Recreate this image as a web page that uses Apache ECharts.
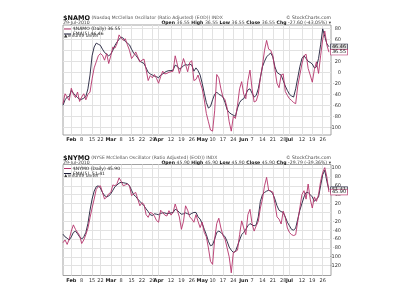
<!DOCTYPE html>
<html><head><meta charset="utf-8">
<script src="https://cdn.jsdelivr.net/npm/echarts@6/dist/echarts.min.js"></script>
<style>html,body{margin:0;padding:0;background:#fff}#c{width:400px;height:300px}</style>
</head><body><div id="c"></div>
<script>
// ---------- data ----------
const dates = ['01-26','01-27','01-28','01-29','02-01','02-02','02-03','02-04','02-05','02-08','02-09','02-10','02-11','02-12','02-16','02-17','02-18','02-19','02-22','02-23','02-24','02-25','02-26','03-01','03-02','03-03','03-04','03-05','03-08','03-09','03-10','03-11','03-12','03-15','03-16','03-17','03-18','03-19','03-22','03-23','03-24','03-25','03-26','03-29','03-30','03-31','04-01','04-05','04-06','04-07','04-08','04-09','04-12','04-13','04-14','04-15','04-16','04-19','04-20','04-21','04-22','04-23','04-26','04-27','04-28','04-29','04-30','05-03','05-04','05-05','05-06','05-07','05-10','05-11','05-12','05-13','05-14','05-17','05-18','05-19','05-20','05-21','05-24','05-25','05-26','05-27','05-28','06-01','06-02','06-03','06-04','06-07','06-08','06-09','06-10','06-11','06-14','06-15','06-16','06-17','06-18','06-21','06-22','06-23','06-24','06-25','06-28','06-29','06-30','07-01','07-02','07-06','07-07','07-08','07-09','07-12','07-13','07-14','07-15','07-16','07-19','07-20','07-21','07-22','07-23','07-26','07-27','07-28','07-29'].map(d => '2010-' + d);

const tickDates = ['2010-02-01','2010-02-08','2010-02-16','2010-02-22','2010-03-01','2010-03-08','2010-03-15','2010-03-22','2010-03-29','2010-04-01','2010-04-12','2010-04-19','2010-04-26','2010-05-03','2010-05-10','2010-05-17','2010-05-24','2010-06-01','2010-06-07','2010-06-14','2010-06-21','2010-06-28','2010-07-01','2010-07-12','2010-07-19','2010-07-26'];
const tickText = ['Feb','8','15','22','Mar','8','15','22','29','Apr','12','19','26','May','10','17','24','Jun','7','14','21','28','Jul','12','19','26'];

const namoDaily = [-57,-39,-45,-51,-29,-40,-46,-36,-53,-45,-39,-50,-40,-36,-12,8,19,30,34,31,22,34,16,30,46,44,52,68,62,58,61,50,40,25,30,37,28,19,22,24,5,-15,-6,-10,-4,-11,-20,-8,2,-3,-2,0,1,2,30,15,-2,10,25,14,1,18,21,-15,-13,-5,-18,-30,-50,-75,-90,-105,-107,-70,-4,-10,-30,-45,-50,-65,-90,-107,-80,-84,-60,-30,-17,-40,-48,-15,4,-30,-54,-52,-40,-10,12,40,58,42,40,30,5,-20,-28,-5,-3,-35,-42,-48,-51,-55,-57,-25,-5,15,30,33,7,-5,-18,5,19,-2,30,60,75,50,36.55];
const namoEma = [-60,-50,-45,-44,-33,-38,-42,-46,-49,-49,-47,-44,-30,-5,30,46,53,51,49,42,36,33,30,33,40,49,55,60,64,62,56,53,50,42,35,31,26,20,18,16,8,0,-3,-5,-7,-8,-10,-5,-3,0,2,3,3,4,13,11,6,8,12,14,13,15,13,2,8,3,-5,-20,-38,-55,-65,-62,-50,-40,-36,-40,-42,-45,-55,-68,-73,-76,-78,-80,-65,-55,-50,-48,-40,-32,-30,-38,-45,-42,-30,-10,10,20,28,32,35,28,10,0,-3,-5,-15,-25,-33,-40,-43,-45,-30,-10,10,25,30,25,20,18,15,8,10,25,50,79,65,52,46.46];
const nymoDaily = [-68,-62,-72,-60,-42,-28,-38,-45,-52,-70,-62,-50,-35,-12,10,30,52,58,60,45,30,35,42,45,62,60,65,78,70,60,62,64,60,38,42,45,30,15,22,18,-5,-11,0,-2,-8,-18,-22,5,0,-6,-8,4,-6,0,19,5,-10,-38,-20,15,5,-10,-15,-22,-5,-20,-34,-22,-45,-55,-80,-110,-117,-60,-25,-13,-35,-52,-60,-80,-100,-136,-90,-88,-85,-50,-19,-35,-50,-5,7,-25,-42,-30,-20,10,30,60,79,50,48,46,20,-10,-15,-26,3,-12,-35,-45,-50,-52,-50,-20,10,40,49,30,64,30,10,35,25,40,70,90,101,80,45.90];
const nymoEma = [-49,-55,-58,-62,-55,-45,-42,-48,-55,-60,-55,-45,-25,5,30,48,58,60,55,45,38,35,37,42,50,58,62,66,68,67,66,65,60,50,40,36,30,25,20,15,8,2,-5,-7,-3,-4,-5,-2,-1,-1,-3,-2,-1,0,7,5,0,-4,-3,-1,-3,-5,-2,0,0,-10,-15,-25,-38,-50,-65,-75,-73,-60,-45,-42,-45,-50,-55,-65,-78,-85,-90,-88,-75,-62,-50,-45,-38,-30,-25,-28,-30,-28,-10,25,40,45,48,50,48,42,30,15,5,2,0,-10,-22,-30,-38,-40,-35,-15,5,20,35,45,45,40,35,25,30,35,60,85,95,70,51.41];

const namoTicks = [-100,-80,-60,-40,-20,0,20,40,60,80];
const nymoTicks = [-120,-100,-80,-60,-40,-20,0,20,40,60,80,100];

// ---------- style ----------
const FONT = 'DejaVu Sans';
const RED = '#b5336b', DARK = '#1e1e3a', GRID = '#e2e2e2', FRAME = '#8a8a8a';
const cats = dates.concat(['']);
const tickMap = {}; tickDates.forEach((d, i) => tickMap[d] = tickText[i]);
const isMonth = t => /[A-Za-z]/.test(t);

function xAxis(gi) {
  return {
    type: 'category', gridIndex: gi, data: cats, boundaryGap: false,
    axisLine: {show: false}, axisTick: {show: false},
    axisLabel: {
      interval: (i, v) => v in tickMap, margin: 2.5, fontSize: 5, fontFamily: FONT, color: '#333',
      formatter: v => isMonth(tickMap[v]) ? '{b|' + tickMap[v] + '}' : tickMap[v],
      rich: {b: {fontWeight: 'bold', fontSize: 5, fontFamily: FONT, color: '#222'}}
    },
    splitLine: {show: true, interval: (i, v) => v in tickMap, lineStyle: {color: GRID, width: 1}}
  };
}
function yAxis(gi, min, max, ticks) {
  return {
    type: 'value', gridIndex: gi, position: 'right', min, max,
    axisLine: {show: false},
    axisTick: {show: false, customValues: ticks},
    axisLabel: {customValues: ticks, fontSize: 5, fontFamily: FONT, color: '#333', align: 'right', margin: 10},
    splitLine: {show: true, lineStyle: {color: GRID, width: 1}}
  };
}
function line(name, data, gi, color, boxBg, boxFg) {
  return {
    type: 'line', name, data, xAxisIndex: gi, yAxisIndex: gi, showSymbol: false,
    lineStyle: {width: 0.9, color}, itemStyle: {color}, z: color === RED ? 3 : 2,
    endLabel: {show: true, formatter: p => Number(p.value).toFixed(2), fontSize: 5, fontFamily: FONT,
      color: boxFg, backgroundColor: boxBg, borderColor: color, borderWidth: 0.6, padding: [0, 1, 0, 1], distance: 2}
  };
}
function legend(top, names, vals) {
  return {
    left: 63, top, orient: 'vertical', itemGap: 0, itemWidth: 7, itemHeight: 1, padding: 1,
    icon: 'rect', data: names, selectedMode: false,
    textStyle: {fontSize: 4.5, fontFamily: FONT, color: '#222', padding: [0, 0, 0, -3]},
    formatter: n => n + ' ' + vals[names.indexOf(n)]
  };
}
function header(y, sym, desc, stats) {
  const t = (x, yy, rich, text, align) => ({type: 'text', x, y: yy, style: {text, rich, align: align || 'left', verticalAlign: 'top', font: '5px ' + FONT, fill: '#333'}});
  const R = {s: {fontSize: 6.5, fontWeight: 'bold', fontFamily: FONT, fill: '#111'}, d: {fontSize: 4.5, fontFamily: FONT, fill: '#555'},
             b: {fontSize: 4.6, fontWeight: 'bold', fontFamily: FONT, fill: '#111'}, n: {fontSize: 4.6, fontFamily: FONT, fill: '#444'}};
  const st = stats.map(([k, v]) => '{b|' + k + '} {n|' + v + '}').join(' ');
  return [
    t(63, y, R, '{s|' + sym + '} {d|' + desc + '}'),
    t(331, y + 0.5, R, '{n|© StockCharts.com}', 'right'),
    t(63, y + 6, R, '{n|29-Jul-2010}'),
    t(331, y + 6, R, st + ' {n|▾}', 'right')
  ];
}

const chart = echarts.init(document.getElementById('c'), null, {renderer: 'canvas'});
chart.setOption({
  animation: false, backgroundColor: '#fff',
  textStyle: {fontFamily: FONT},
  grid: [
    {left: 63, right: 69, top: 25, height: 110, show: true, borderColor: FRAME, borderWidth: 0.8, backgroundColor: '#fff'},
    {left: 63, right: 69, top: 164.5, height: 111, show: true, borderColor: FRAME, borderWidth: 0.8, backgroundColor: '#fff'}
  ],
  xAxis: [xAxis(0), xAxis(1)],
  yAxis: [yAxis(0, -114, 86, namoTicks), yAxis(1, -142, 108, nymoTicks)],
  legend: [
    legend(25.5, ['$NAMO (Daily)', 'EMA(5)'], ['36.55', '46.46']),
    legend(165, ['$NYMO (Daily)', 'EMA(5) '], ['45.90', '51.41'])
  ],
  series: [
    line('$NAMO (Daily)', namoDaily, 0, RED, '#fff', '#111'),
    line('EMA(5)', namoEma, 0, DARK, '#ddd', '#111'),
    line('$NYMO (Daily)', nymoDaily, 1, RED, '#fff', '#111'),
    line('EMA(5) ', nymoEma, 1, DARK, '#ddd', '#111')
  ],
  graphic: [].concat(
    header(14.5, '$NAMO', '(Nasdaq McClellan Oscillator (Ratio Adjusted) (EOD)) INDX',
      [['Open', '36.55'], ['High', '36.55'], ['Low', '36.55'], ['Close', '36.55'], ['Chg', '-27.60 (-43.05%)']]),
    header(154.5, '$NYMO', '(NYSE McClellan Oscillator (Ratio Adjusted) (EOD)) INDX',
      [['Open', '45.90'], ['High', '45.90'], ['Low', '45.90'], ['Close', '45.90'], ['Chg', '-29.79 (-39.36%)']]),
    [{type: 'text', x: 64, y: 33.5, style: {text: '▲Volume undef', font: '4.5px ' + FONT, fill: '#333'}},
     {type: 'text', x: 64, y: 173, style: {text: '▲Volume undef', font: '4.5px ' + FONT, fill: '#333'}}]
  )
});
</script></body></html>
